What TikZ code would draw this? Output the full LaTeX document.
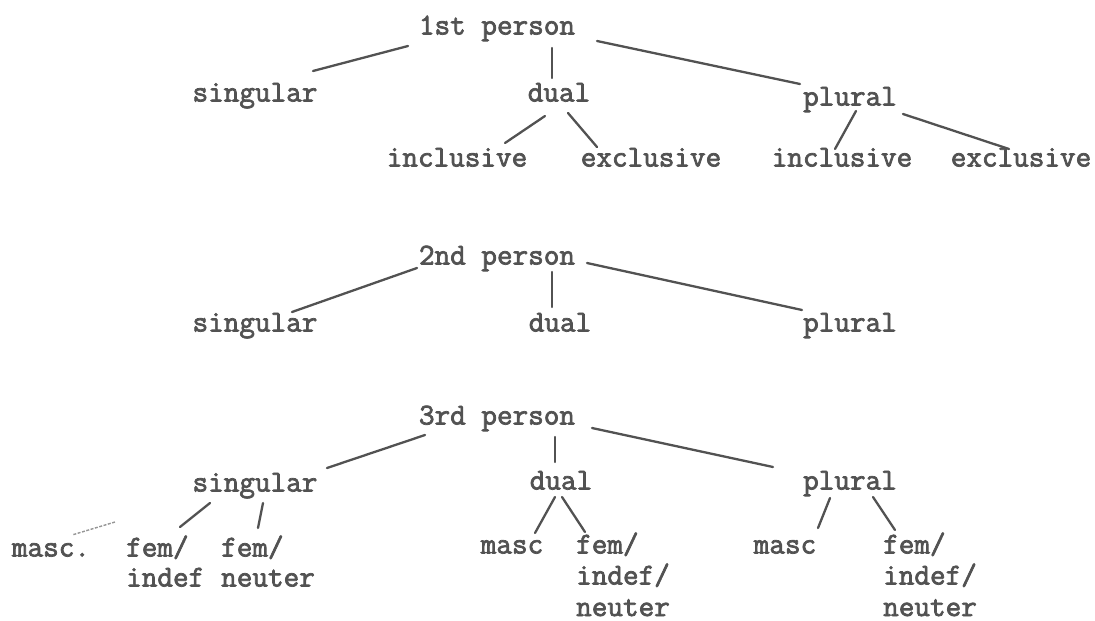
\documentclass[tikz,border=0pt]{standalone}
\usepackage{fontspec}
\newfontfamily\tw{Latin Modern Mono}[FakeBold=2.4]
\usetikzlibrary{calc}
\definecolor{ink}{RGB}{82,82,82}
\definecolor{faint}{RGB}{150,150,150}
\tikzset{
  lab/.style={anchor=base, inner sep=0pt, text=ink, font=\tw\fontsize{30.3}{32}\selectfont},
  labw/.style={lab, anchor=base west},
  edge/.style={draw=ink, line width=2.3pt, line cap=round},
  faintedge/.style={draw=faint, line width=1.4pt, dash pattern=on 3pt off 1.5pt}
}
\begin{document}
\begin{tikzpicture}[x=1pt,y=-1pt]
\useasboundingbox (0,0) rectangle (1095,621);
% ---------- 1st person
\node[lab] (p1) at (497,34.5) {1st person};
\node[lab] (s1) at (255,101.5) {singular};
\node[lab] (d1) at (559,101.5) {dual};
\node[lab] (pl1) at (850,105.5) {plural};
\node[lab] (i1) at (457,166.5) {inclusive};
\node[lab] (e1) at (651,166.5) {exclusive};
\node[lab] (i2) at (842,166.5) {inclusive};
\node[lab] (e2) at (1021,166.5) {exclusive};
\draw[edge] ($(p1.base)+(-89,11.5)$) -- ($(s1.base)+(58,-30.5)$);
\draw[edge] ($(p1.base)+(55,13.5)$) -- ($(d1.base)+(-7,-23.5)$);
\draw[edge] ($(p1.base)+(100,6.5)$) -- ($(pl1.base)+(-50,-21.5)$);
\draw[edge] ($(d1.base)+(-14,14.5)$) -- ($(i1.base)+(48,-23.5)$);
\draw[edge] ($(d1.base)+(9,11.5)$) -- ($(e1.base)+(-54,-19.5)$);
\draw[edge] ($(pl1.base)+(6,5.5)$) -- ($(i2.base)+(-7,-17.5)$);
\draw[edge] ($(pl1.base)+(53,8.5)$) -- ($(e2.base)+(-12,-17.5)$);
% ---------- 2nd person
\node[lab] (p2) at (497,264.5) {2nd person};
\node[lab] (s2) at (255,331.5) {singular};
\node[lab] (d2) at (560,331.5) {dual};
\node[lab] (pl2) at (850,331.5) {plural};
\draw[edge] ($(p2.base)+(-80,3.5)$) -- ($(s2.base)+(37,-19.5)$);
\draw[edge] ($(p2.base)+(55,7.5)$) -- ($(d2.base)+(-8,-24.5)$);
\draw[edge] ($(p2.base)+(90,-1.5)$) -- ($(pl2.base)+(-48,-21.5)$);
% ---------- 3rd person
\node[lab] (p3) at (497,424.5) {3rd person};
\node[lab] (s3) at (255,491.5) {singular};
\node[lab] (d3) at (561,489.5) {dual};
\node[lab] (pl3) at (850,489.5) {plural};
\node[lab] (m1) at (51,556.5) {masc.};
\node[labw] (f1a) at (126,556.5) {fem/};
\node[labw] (f1b) at (126,586.5) {indef};
\node[labw] (f2a) at (221,556.5) {fem/};
\node[labw] (f2b) at (221,586.5) {neuter};
\node[lab] (m2) at (512,553.5) {masc};
\node[labw] (f3a) at (576,553.5) {fem/};
\node[labw] (f3b) at (576,584.5) {indef/};
\node[labw] (f3c) at (576,616) {neuter};
\node[lab] (m3) at (785,553.5) {masc};
\node[labw] (f4a) at (883,553.5) {fem/};
\node[labw] (f4b) at (883,584.5) {indef/};
\node[labw] (f4c) at (883,616) {neuter};
\draw[edge] ($(p3.base)+(-72,10.5)$) -- ($(s3.base)+(72,-23.5)$);
\draw[edge] ($(p3.base)+(58,12.5)$) -- ($(d3.base)+(-6,-27.5)$);
\draw[edge] ($(p3.base)+(95,3.5)$) -- ($(pl3.base)+(-77,-22.5)$);
\draw[faintedge] ($(s3.base)+(-140,30.5)$) -- ($(m1.base)+(21,-21.5)$);
\draw[edge] ($(s3.base)+(-45,11.5)$) -- ($(f1a.base west)+(54,-29.5)$);
\draw[edge] ($(s3.base)+(8,11.5)$) -- ($(f2a.base west)+(37,-28.5)$);
\draw[edge] ($(d3.base)+(-6,7.5)$) -- ($(m2.base)+(23,-20.5)$);
\draw[edge] ($(d3.base)+(1,7.5)$) -- ($(f3a.base west)+(9,-21.5)$);
\draw[edge] ($(pl3.base)+(-20,8.5)$) -- ($(m3.base)+(33,-25.5)$);
\draw[edge] ($(pl3.base)+(23,7.5)$) -- ($(f4a.base west)+(12,-23.5)$);
\end{tikzpicture}
\end{document}
